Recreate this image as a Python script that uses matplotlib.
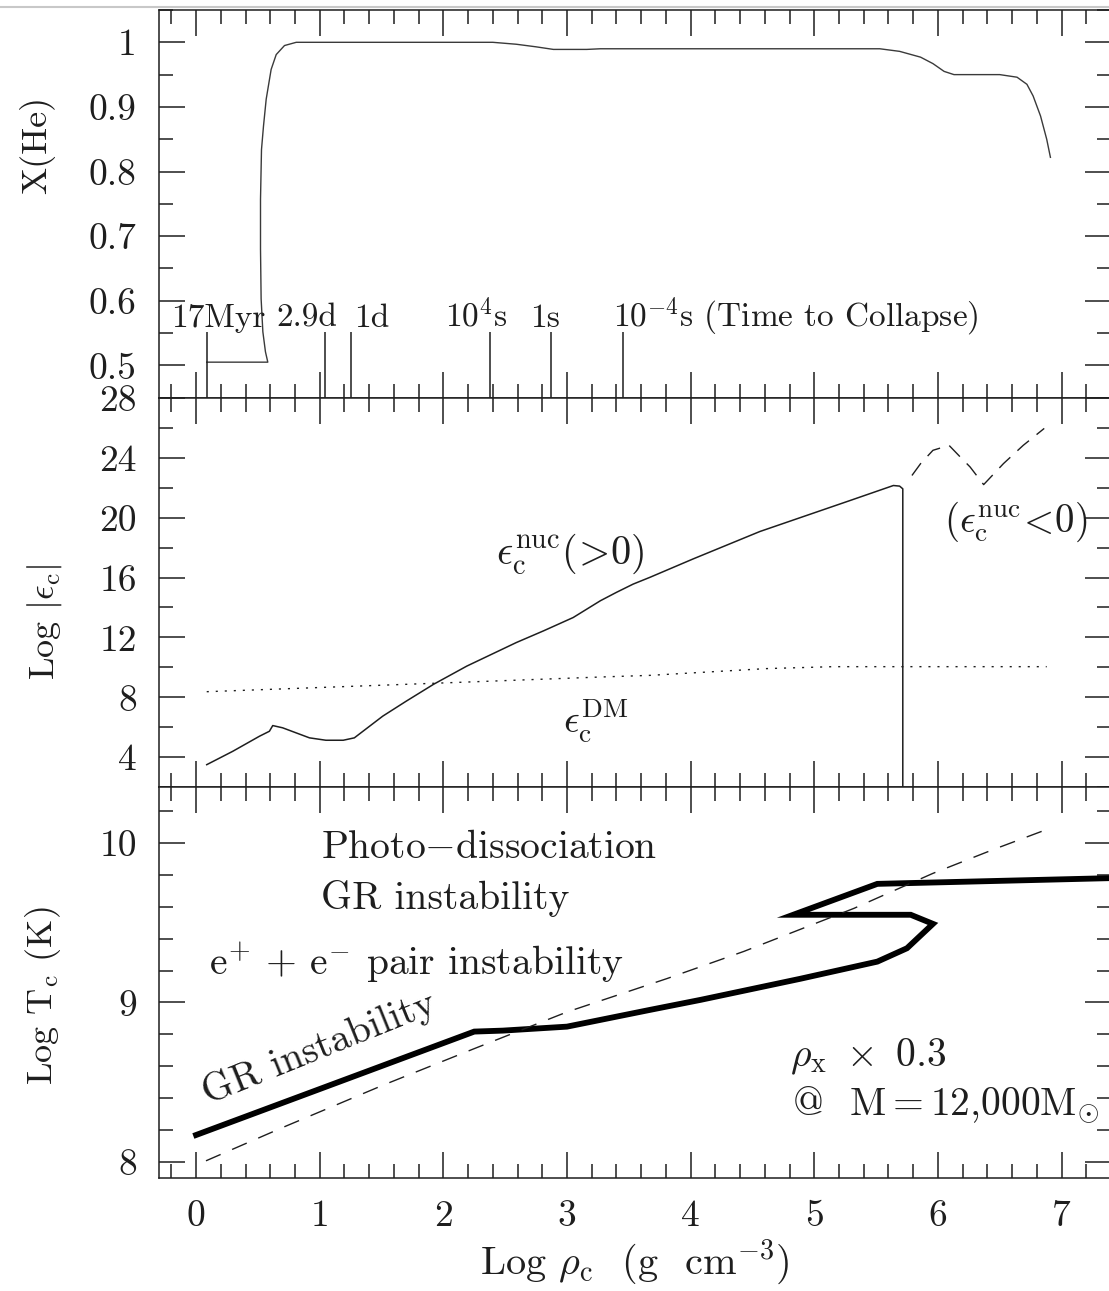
import matplotlib
matplotlib.use("Agg")
import matplotlib.pyplot as plt
from matplotlib.ticker import MultipleLocator, FuncFormatter
from matplotlib.lines import Line2D

plt.rcParams['font.family'] = ['cmr10', 'DejaVu Serif']
plt.rcParams['mathtext.fontset'] = 'cm'
plt.rcParams['axes.formatter.use_mathtext'] = True
plt.rcParams['axes.unicode_minus'] = False

# ---------------- data ----------------
# central helium mass fraction vs log central density
xhe_logrho = [0.086, 0.580, 0.561, 0.540, 0.526, 0.521, 0.521, 0.529, 0.545, 0.567,
              0.607, 0.648, 0.715, 0.81, 2.40, 2.59, 2.75, 2.89, 3.16, 3.27,
              5.53, 5.69, 5.86, 5.96, 6.05, 6.13, 6.50, 6.64, 6.72, 6.77,
              6.83, 6.88, 6.91]
xhe_val = [0.505, 0.505, 0.521, 0.552, 0.603, 0.680, 0.757, 0.834, 0.870, 0.912,
           0.958, 0.981, 0.995, 1.000, 1.000, 0.997, 0.993, 0.989, 0.989, 0.990,
           0.990, 0.986, 0.977, 0.967, 0.955, 0.950, 0.950, 0.946, 0.935, 0.917,
           0.886, 0.850, 0.822]

# time-to-collapse markers
time_logrho = [0.086, 1.044, 1.252, 2.375, 2.874, 3.45]
time_text_logrho = [-0.20, 0.647, 1.274, 2.012, 2.699, 3.371]
time_labels = ['17Myr', '2.9d', '1d', r'10$^4$s', '1s',
               r'10$^{-4}$s (Time to Collapse)']

# nuclear energy generation rate (positive part)
nuc_logrho = [0.086, 0.296, 0.513, 0.593, 0.62, 0.70, 0.81, 0.917, 1.05, 1.19,
              1.28, 1.51, 1.70, 1.92, 2.19, 2.59, 2.81, 3.05, 3.27, 3.40,
              3.535, 3.67, 4.02, 4.56, 5.29, 5.64, 5.69, 5.716, 5.716]
nuc_log_eps = [3.51, 4.40, 5.41, 5.74, 6.12, 5.97, 5.63, 5.30, 5.14, 5.14,
               5.30, 6.75, 7.75, 8.87, 10.09, 11.66, 12.44, 13.33, 14.45, 15.01,
               15.56, 16.01, 17.24, 19.07, 21.14, 22.14, 22.10, 21.92, 2.0]

# nuclear energy rate, negative part (absolute value)
neg_logrho = [5.79, 5.86, 5.96, 6.09, 6.18, 6.26, 6.37, 6.53, 6.69, 6.86]
neg_log_eps = [22.81, 23.60, 24.49, 24.82, 24.05, 23.38, 22.2, 23.60, 24.82, 25.95]

# dark-matter annihilation heating
dm_logrho = [0.086, 2.05, 3.27, 3.67, 4.61, 5.15, 6.88]
dm_log_eps = [8.38, 8.98, 9.36, 9.47, 9.92, 10.05, 10.05]

# central temperature track
tc_logrho = [0.0, 2.25, 2.48, 3.0, 3.67, 4.08, 4.885, 5.51, 5.75, 5.96,
             5.78, 4.83, 5.51, 7.45]
tc_logT = [8.168, 8.817, 8.823, 8.848, 8.953, 9.016, 9.148, 9.256, 9.34, 9.493,
           9.55, 9.55, 9.744, 9.781]

# stability boundary
bd_logrho = [0.08, 0.70, 1.51, 2.25, 3.0, 3.81, 4.43, 5.32, 5.96, 6.45, 6.91]
bd_logT = [8.006, 8.215, 8.48, 8.71, 8.94, 9.15, 9.32, 9.59, 9.81, 9.96, 10.094]

ink = '#1e1e1e'

# ---------------- figure ----------------
fig = plt.figure(figsize=(11.09, 12.91), dpi=100)
FW, FH = 1109.0, 1291.0
left, width = 159 / FW, 952 / FW
ax1 = fig.add_axes([left, 1 - 397.7 / FH, width, 387.7 / FH])
ax2 = fig.add_axes([left, 1 - 787.3 / FH, width, 389.6 / FH])
ax3 = fig.add_axes([left, 1 - 1177.7 / FH, width, 390.4 / FH])

fig.add_artist(Line2D([0, 1], [1 - 6.5 / FH, 1 - 6.5 / FH], color='#c8c8c8', lw=1.5))

tick_fs = 27
txt_fs = 28.5
fmt = FuncFormatter(lambda v, _: '%g' % round(v, 3))

for ax in (ax1, ax2, ax3):
    ax.set_xlim(-0.3, 7.4)
    ax.xaxis.set_major_locator(MultipleLocator(1))
    ax.xaxis.set_minor_locator(MultipleLocator(0.2))
    ax.tick_params(which='both', direction='in', top=True, bottom=True,
                   left=True, right=True, width=1.1, colors=ink,
                   labelsize=tick_fs)
    ax.tick_params(which='major', length=19, pad=16)
    ax.tick_params(which='minor', length=10)
    ax.tick_params(axis='x', labelbottom=False)
    for s in ax.spines.values():
        s.set_linewidth(1.1)
        s.set_color(ink)
    ax.yaxis.set_major_formatter(fmt)
    ax.xaxis.set_major_formatter(fmt)

# --- panel 1: X(He)
ax1.set_ylim(0.45, 1.05)
ax1.yaxis.set_major_locator(MultipleLocator(0.1))
ax1.yaxis.set_minor_locator(MultipleLocator(0.05))
ax1.plot(xhe_logrho, xhe_val, color='#3a3a3a', lw=1.0)
ax1.vlines(time_logrho, 0.45, 0.552, color=ink, lw=1.1)
for xt, lab in zip(time_text_logrho, time_labels):
    ax1.text(xt, 0.560, lab, fontsize=24, ha='left', va='baseline', color=ink)
ax1.text(-0.128, 0.652, 'X(He)', transform=ax1.transAxes, rotation=90,
         ha='center', va='center', fontsize=26, color=ink)

# --- panel 2: log |eps|
ax2.set_ylim(2, 28)
ax2.yaxis.set_major_locator(MultipleLocator(4))
ax2.yaxis.set_minor_locator(MultipleLocator(2))
ax2.plot(nuc_logrho, nuc_log_eps, color=ink, lw=1.1)
ax2.plot(neg_logrho, neg_log_eps, color=ink, lw=1.0, linestyle=(0, (11, 7)))
ax2.plot(dm_logrho, dm_log_eps, color=ink, lw=1.0, linestyle=(0, (1.5, 5)))
ax2.text(3.03, 17.57, r'$\epsilon_{\rm c}^{\rm nuc}(\!>\!0)$', fontsize=29,
         ha='center', va='center', color=ink)
ax2.text(3.23, 6.39, r'$\epsilon_{\rm c}^{\rm DM}$', fontsize=28,
         ha='center', va='center', color=ink)
ax2.text(6.63, 19.71, r'$(\epsilon_{\rm c}^{\rm nuc}\!<\!0)$', fontsize=28,
         ha='center', va='center', color=ink)
ax2.text(-0.120, 0.424, r'Log $|\epsilon_{\rm c}|$', transform=ax2.transAxes,
         rotation=90, ha='center', va='center', fontsize=26, color=ink)

# --- panel 3: log Tc
ax3.set_ylim(7.9, 10.35)
ax3.yaxis.set_major_locator(MultipleLocator(1))
ax3.yaxis.set_minor_locator(MultipleLocator(0.2))
ax3.tick_params(axis='x', labelbottom=True)
ax3.plot(tc_logrho, tc_logT, color='black', lw=4.2, solid_joinstyle='miter')
ax3.plot(bd_logrho, bd_logT, color=ink, lw=1.0, linestyle=(0, (11.5, 9)))
ax3.text(1.01, 9.97, r'Photo$-$dissociation', fontsize=txt_fs, ha='left',
         va='center', color=ink)
ax3.text(1.01, 9.655, 'GR instability', fontsize=txt_fs, ha='left',
         va='center', color=ink)
ax3.text(0.108, 9.246, r'e$^{+}$ + e$^{-}$ pair instability', fontsize=txt_fs,
         ha='left', va='center', color=ink)
ax3.text(0.994, 8.714, 'GR instability', fontsize=txt_fs, ha='center',
         va='center', rotation=22, color=ink)
ax3.text(4.80, 8.66, r'$\rho_{\rm x}\ \times\ 0.3$', fontsize=txt_fs, ha='left',
         va='center', color=ink)
ax3.text(4.82, 8.356, r'@  M$=$12,000M$_{\odot}$', fontsize=txt_fs, ha='left',
         va='center', color=ink)
ax3.text(-0.122, 0.465, r'Log T$_{\rm c}$ (K)', transform=ax3.transAxes,
         rotation=90, ha='center', va='center', fontsize=26, color=ink)
ax3.text(0.5, -0.216, r'Log $\rho_{\rm c}$  (g  cm$^{-3}$)', transform=ax3.transAxes,
         ha='center', va='center', fontsize=29, color=ink)

fig.savefig('out.png', dpi=100)
